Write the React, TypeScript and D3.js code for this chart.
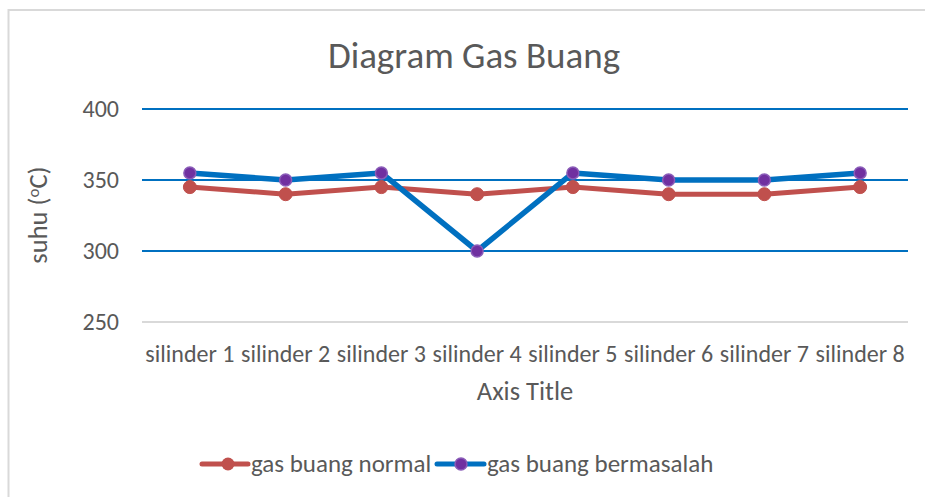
import React from "react";
import * as d3 from "d3";

const categories = ["silinder 1", "silinder 2", "silinder 3", "silinder 4", "silinder 5", "silinder 6", "silinder 7", "silinder 8"];
const normalValues = [345, 340, 345, 340, 345, 340, 340, 345];
const problemValues = [355, 350, 355, 300, 355, 350, 350, 355];
const yTicks = [250, 300, 350, 400];

const W = 925;
const H = 497;
const FONT = "Carlito, Calibri, 'Open Sans', sans-serif";

export default function App() {
  const x = d3.scaleBand<string>().domain(categories).range([142, 908]);
  const y = d3.scaleLinear().domain([250, 400]).range([322, 109]);
  const cx = (c: string) => (x(c) ?? 0) + x.bandwidth() / 2;
  const line = d3.line<number>().x((_, i) => cx(categories[i])).y((d) => y(d));

  return (
    <svg width={W} height={H} style={{ position: "absolute", left: 0, top: 0, background: "#fff" }}>
      <rect x={8.5} y={10} width={W + 10} height={H + 10} fill="#fff" stroke="#d9d9d9" strokeWidth={2} />
      <text x={474} y={68} textAnchor="middle" fontFamily={FONT} fontSize={37} fill="#595959">Diagram Gas Buang</text>
      {yTicks.map((t) => (
        <g key={t}>
          <line x1={142} x2={908} y1={y(t)} y2={y(t)} stroke={t === 250 ? "#d9d9d9" : "#0070C0"} strokeWidth={2} />
          <text x={119} y={y(t) + 8} textAnchor="end" fontFamily={FONT} fontSize={24} fill="#595959">{t}</text>
        </g>
      ))}
      {categories.map((c) => (
        <text key={c} x={cx(c)} y={362} textAnchor="middle" fontFamily={FONT} fontSize={24} fill="#595959">{c}</text>
      ))}
      <text x={525} y={400} textAnchor="middle" fontFamily={FONT} fontSize={26.5} fill="#595959">Axis Title</text>
      <text transform="translate(47,215) rotate(-90)" textAnchor="middle" fontFamily={FONT} fontSize={26.5} fill="#595959">
        suhu (<tspan fontSize={17} dy={-8}>o</tspan><tspan dy={8}>C)</tspan>
      </text>
      <path d={line(normalValues) ?? ""} fill="none" stroke="#C0504D" strokeWidth={5} strokeLinejoin="round" />
      <path d={line(problemValues) ?? ""} fill="none" stroke="#0070C0" strokeWidth={5.5} strokeLinejoin="round" />
      {normalValues.map((v, i) => (
        <circle key={"n" + i} cx={cx(categories[i])} cy={y(v)} r={6.5} fill="#C0504D" stroke="#C0504D" strokeWidth={1} />
      ))}
      {problemValues.map((v, i) => (
        <circle key={"p" + i} cx={cx(categories[i])} cy={y(v)} r={6} fill="#7030A0" stroke="#8a5cb8" strokeWidth={1.5} />
      ))}
      <g>
        <line x1={202} x2={248} y1={464} y2={464} stroke="#C0504D" strokeWidth={5} strokeLinecap="round" />
        <circle cx={228} cy={464} r={6.5} fill="#C0504D" />
        <text x={251} y={472} fontFamily={FONT} fontSize={25} fill="#595959">gas buang normal</text>
        <line x1={437} x2={484} y1={464} y2={464} stroke="#0070C0" strokeWidth={5} strokeLinecap="round" />
        <circle cx={461} cy={464} r={6} fill="#7030A0" stroke="#8a5cb8" strokeWidth={1.5} />
        <text x={487} y={472} fontFamily={FONT} fontSize={25} fill="#595959">gas buang bermasalah</text>
      </g>
    </svg>
  );
}
